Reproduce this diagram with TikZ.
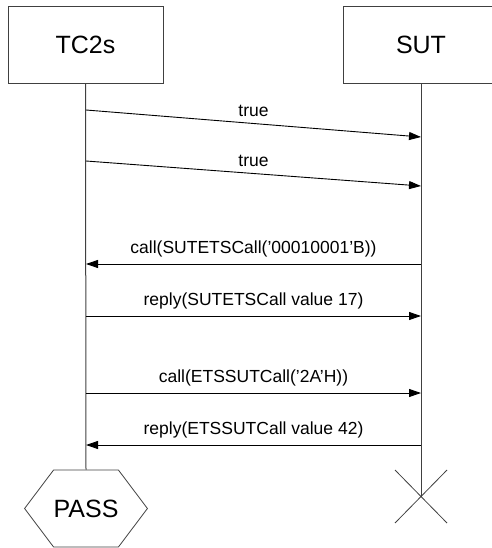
\documentclass[tikz,border=0pt]{standalone}
\usepackage{fontspec}
\setmainfont{Liberation Sans}
\usetikzlibrary{arrows.meta,positioning,calc,shapes.symbols}

\begin{document}
\begin{tikzpicture}[
    x=1pt, y=-1pt,
    instance/.style={draw=black!75, line width=0.9pt, minimum width=155pt, minimum height=77pt, font=\fontsize{25}{28}\selectfont},
    lifeline/.style={draw=black!75, line width=1pt},
    msg/.style={line width=0.9pt, -{Triangle[length=12pt,width=8pt]}},
    msglabel/.style={midway, above=3pt, font=\fontsize{17.5}{20}\selectfont},
    verdict/.style={draw=black!75, line width=0.8pt, signal, signal to=east and west, signal pointer angle=106, minimum width=119pt, minimum height=77pt, inner sep=0pt, font=\fontsize{25}{28}\selectfont}
]
    \useasboundingbox (0,0) rectangle (491,548);

    % Instances
    \node[instance] (tc) at (85.5,44.5) {TC2s};
    \node[instance] (sut) at (421,44.5) {SUT};

    % Lifeline points
    \coordinate (tc1) at (86,110);   \coordinate (sut1) at (421,137);
    \coordinate (tc2) at (86,161);   \coordinate (sut2) at (421,186);
    \coordinate (tc3) at (86,264);   \coordinate (sut3) at (421,264);
    \coordinate (tc4) at (86,316);   \coordinate (sut4) at (421,316);
    \coordinate (tc5) at (86,393);   \coordinate (sut5) at (421,393);
    \coordinate (tc6) at (86,445);   \coordinate (sut6) at (421,445);

    % Verdict and stop
    \node[verdict] (pass) at (86,508.5) {PASS};
    \coordinate (sutend) at (421,497);

    % Lifelines
    \draw[lifeline] (tc.south) -- (pass.north);
    \draw[lifeline] (sut.south) -- (sutend);
    \draw[black!75, line width=0.8pt] ($(sutend)+(-26,-27)$) -- ($(sutend)+(26,26)$);
    \draw[black!75, line width=0.8pt] ($(sutend)+(26,-27)$) -- ($(sutend)+(-26,26)$);

    % Messages
    \draw[msg] (tc1) -- (sut1) node[msglabel] {true};
    \draw[msg] (tc2) -- (sut2) node[msglabel] {true};
    \draw[msg] (sut3) -- (tc3) node[msglabel] {call(SUTETSCall('00010001'B))};
    \draw[msg] (tc4) -- (sut4) node[msglabel] {reply(SUTETSCall value 17)};
    \draw[msg] (tc5) -- (sut5) node[msglabel] {call(ETSSUTCall('2A'H))};
    \draw[msg] (sut6) -- (tc6) node[msglabel] {reply(ETSSUTCall value 42)};
\end{tikzpicture}
\end{document}
